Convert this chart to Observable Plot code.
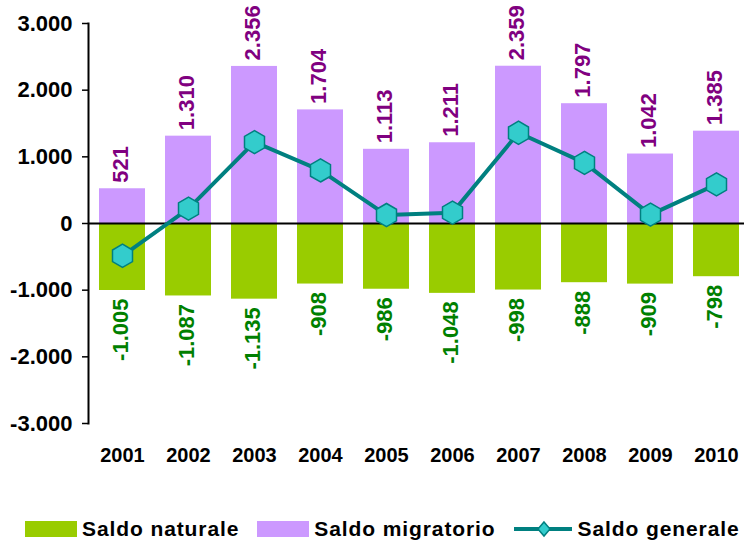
<!DOCTYPE html>
<html><head><meta charset="utf-8">
<script src="https://cdn.jsdelivr.net/npm/d3@7"></script>
<script src="https://cdn.jsdelivr.net/npm/@observablehq/plot@0.6"></script>
<style>
body{margin:0;background:#fff;font-family:"Liberation Sans",Arial,sans-serif;}
#legend{display:flex;align-items:center;height:34px;padding-left:25px;font-weight:bold;font-size:21px;letter-spacing:0.9px;color:#000;white-space:nowrap;}
.sw{width:52px;height:16px;display:inline-block;margin-right:5px}
.item{display:flex;align-items:center;margin-right:18px}
</style></head><body>
<div id="chart"></div>
<div id="legend"></div>
<script>
const years = ["2001","2002","2003","2004","2005","2006","2007","2008","2009","2010"];
const naturale = [-1005,-1087,-1135,-908,-986,-1048,-998,-888,-909,-798];
const migratorio = [521,1310,2356,1704,1113,1211,2359,1797,1042,1385];
const generale = [-484,223,1221,796,127,163,1361,909,133,587];
const yTicks = [-3000,-2000,-1000,0,1000,2000,3000];
const seriesNames = ["Saldo naturale","Saldo migratorio","Saldo generale"];
const seriesColors = ["#99CC00","#CC99FF","#008080"];

const fmt = d3.formatLocale({decimal:",", thousands:".", grouping:[3], currency:["€",""], minus:"-"}).format(",d");
const rows = years.map((y,i)=>({year:y, nat:naturale[i], mig:migratorio[i], gen:generale[i]}));

const plot = Plot.plot({
  width:744, height:512, marginTop:23, marginBottom:89, marginLeft:88, marginRight:0,
  style:{fontFamily:"'Liberation Sans', Arial, sans-serif", fontWeight:"bold", background:"white", overflow:"visible", color:"black"},
  x:{type:"band", domain:years, range:[88,750], paddingInner:0.3, paddingOuter:0.15},
  y:{domain:[-3000,3000]},
  marks:[
    Plot.barY(rows,{x:"year", y:"mig", fill:seriesColors[1]}),
    Plot.barY(rows,{x:"year", y:"nat", fill:seriesColors[0]}),
    Plot.ruleY([0],{stroke:"#000", strokeWidth:2}),
    Plot.axisY({ticks:yTicks, tickFormat:fmt, tickSize:6, tickPadding:10, fontSize:22, label:null, color:"black", strokeWidth:1.5}),
    Plot.frame({anchor:"left", stroke:"#000", strokeWidth:2}),
    Plot.axisX({tickSize:0, tickPadding:24, fontSize:20, label:null, color:"black"}),
    Plot.line(rows,{x:"year", y:"gen", stroke:"#008080", strokeWidth:4}),
    Plot.dot(rows,{x:"year", y:"gen", symbol:"hexagon", r:10, fill:"#33CCCC", stroke:"#008080", strokeWidth:1.5}),
    Plot.text(rows,{x:"year", y:"mig", text:d=>fmt(d.mig), rotate:-90, textAnchor:"start", lineAnchor:"middle", dy:-6, dx:-2, fill:"#800080", fontSize:22, fontWeight:"bold"}),
    Plot.text(rows,{x:"year", y:"nat", text:d=>fmt(d.nat), rotate:-90, textAnchor:"end", lineAnchor:"middle", dy:8, dx:-2, fill:"#008000", fontSize:22, fontWeight:"bold"})
  ]
});
document.getElementById("chart").appendChild(plot);

const leg = document.getElementById("legend");
seriesNames.forEach((name,i)=>{
  const item = document.createElement("div");
  item.className = "item";
  if (i < 2) {
    const sw = document.createElement("span");
    sw.className = "sw";
    sw.style.background = seriesColors[i];
    item.appendChild(sw);
  } else {
    const ns = "http://www.w3.org/2000/svg";
    const s = document.createElementNS(ns,"svg");
    s.setAttribute("width","58"); s.setAttribute("height","20");
    s.style.marginRight = "6px";
    const l = document.createElementNS(ns,"line");
    l.setAttribute("x1","0"); l.setAttribute("x2","58"); l.setAttribute("y1","10"); l.setAttribute("y2","10");
    l.setAttribute("stroke",seriesColors[2]); l.setAttribute("stroke-width","4");
    s.appendChild(l);
    const p = document.createElementNS(ns,"polygon");
    p.setAttribute("points","30,3 36,10 30,17 24,10");
    p.setAttribute("fill","#33CCCC"); p.setAttribute("stroke",seriesColors[2]); p.setAttribute("stroke-width","1.5");
    s.appendChild(p);
    item.appendChild(s);
  }
  const t = document.createElement("span");
  t.textContent = name;
  item.appendChild(t);
  leg.appendChild(item);
});
</script>
</body></html>
